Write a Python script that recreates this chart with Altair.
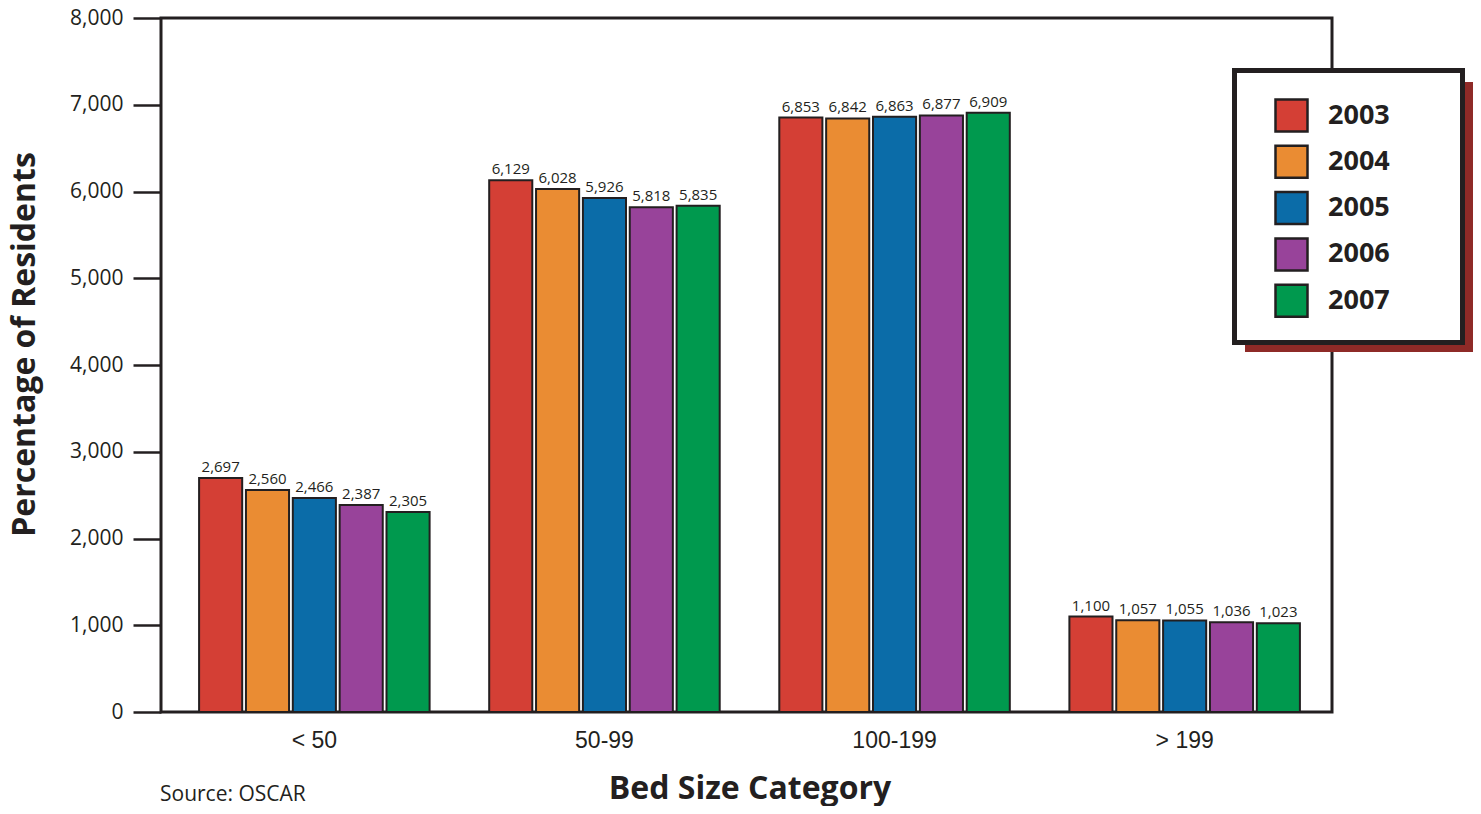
import altair as alt
import pandas as pd

categories = ["< 50", "50-99", "100-199", "> 199"]
years = ["2003", "2004", "2005", "2006", "2007"]
v2003 = [2697, 6129, 6853, 1100]
v2004 = [2560, 6028, 6842, 1057]
v2005 = [2466, 5926, 6863, 1055]
v2006 = [2387, 5818, 6877, 1036]
v2007 = [2305, 5835, 6909, 1023]
series = [v2003, v2004, v2005, v2006, v2007]
bar_colors = ["#D43F35", "#EA8C33", "#0B6CA8", "#98439A", "#00994E"]
y_ticks = [0, 1000, 2000, 3000, 4000, 5000, 6000, 7000, 8000]

rows = []
for yr, vals in zip(years, series):
    for c, v in zip(categories, vals):
        rows.append({"cat": c, "year": yr, "value": v})
df = pd.DataFrame(rows)

FONT = "Open Sans"
XFONT = "Liberation Sans"
INK = "#231f20"

x = alt.X(
    "cat:N", sort=categories,
    scale=alt.Scale(paddingInner=0.2054, paddingOuter=0.1313, range=[0, 1177]),
    axis=alt.Axis(
        title="Bed Size Category", labelFontSize=23, labelFont=XFONT, labelColor=INK,
        labelPadding=17, ticks=False, domain=False, labelAngle=0,
        titleFont=FONT, titleFontSize=32, titleFontWeight="bold", titleColor=INK,
        titlePadding=21,
    ),
)
xo = alt.XOffset("year:N", sort=years, scale=alt.Scale(paddingInner=0.08, paddingOuter=0))
y = alt.Y(
    "value:Q",
    scale=alt.Scale(domain=[0, 8000], nice=False),
    axis=alt.Axis(
        values=y_ticks, format=",.0f", tickSize=28, tickWidth=2.5, tickColor=INK,
        domain=False, grid=False, labelFontSize=21, labelFont=FONT, labelColor=INK,
        labelPadding=10, title="Percentage of Residents", titleFont=FONT,
        titleFontSize=32, titleFontWeight="bold", titleColor=INK,
        titleX=-127, titleY=326, titleAngle=270, titleBaseline="alphabetic", titleAlign="center",
    ),
)
color = alt.Color(
    "year:N", sort=years,
    scale=alt.Scale(domain=years, range=bar_colors),
    legend=alt.Legend(
        title=None, orient="none", legendX=1113, legendY=80, padding=0,
        symbolType="square", symbolSize=1024,
        symbolStrokeColor=INK, symbolStrokeWidth=2.5, symbolOpacity=1,
        labelFont=FONT, labelFontSize=27, labelFontWeight="bold", labelColor=INK,
        labelOffset=19, rowPadding=3.3,
    ),
)

bars = alt.Chart(df).mark_bar(stroke=INK, strokeWidth=2).encode(x=x, xOffset=xo, y=y, color=color)
labels = alt.Chart(df).mark_text(baseline="bottom", dy=-3, fontSize=15, font=FONT, color=INK).encode(
    x=x, xOffset=xo, y=y, text=alt.Text("value:Q", format=",")
)
one = pd.DataFrame({"k": [0]})
shadow = alt.Chart(one).mark_rect(color="#8E2A27").encode(
    x=alt.value(1084), x2=alt.value(1316), y=alt.value(64), y2=alt.value(334)
)
legend_box = alt.Chart(one).mark_rect(fill="white", stroke=INK, strokeWidth=5).encode(
    x=alt.value(1073.5), x2=alt.value(1301.5), y=alt.value(52.5), y2=alt.value(324.5)
)
source = alt.Chart(pd.DataFrame({"t": ["Source: OSCAR"]})).mark_text(
    align="left", baseline="middle", fontSize=21, font=FONT, color=INK
).encode(x=alt.value(-1), y=alt.value(777), text="t:N")

chart = alt.layer(bars, labels, shadow, legend_box, source).properties(
    width=1171, height=694,
    autosize=alt.AutoSizeParams(type="none"),
    padding={"left": 153, "top": 10, "right": 141, "bottom": 94},
).configure_view(stroke=INK, strokeWidth=3)

chart.save("out.html", embed_options={"renderer": "svg", "actions": False})
